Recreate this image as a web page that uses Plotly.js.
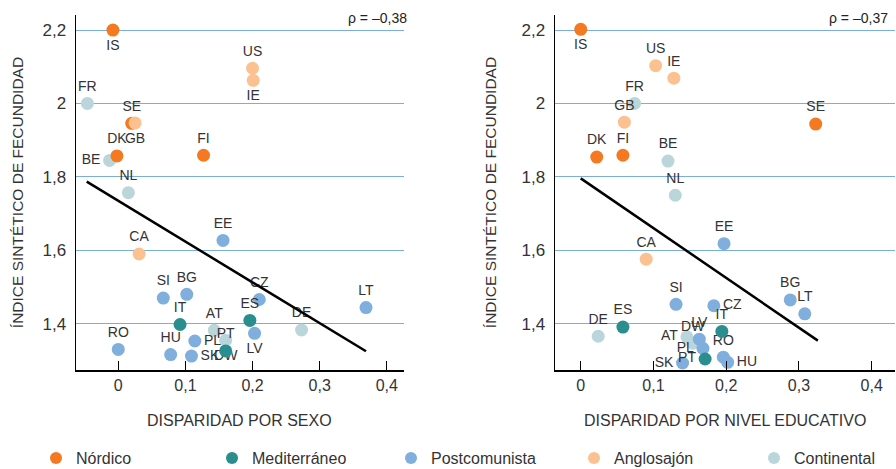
<!DOCTYPE html>
<html>
<head>
<meta charset="utf-8">
<script src="https://cdn.plot.ly/plotly-3.0.1.min.js"></script>
<style>html,body{margin:0;padding:0;background:#fff;}#chart{width:896px;height:469px;}</style>
</head>
<body>
<div id="chart"></div>
<script>
// ---- data ----
const countries = ["IS","SE","DK","FI","IT","ES","PT","EE","SI","BG","CZ","LT","LV","PL","HU","SK","RO","US","IE","GB","CA","FR","BE","NL","AT","DE","DW"];
const regions   = ["Nórdico","Nórdico","Nórdico","Nórdico","Mediterráneo","Mediterráneo","Mediterráneo",
                   "Postcomunista","Postcomunista","Postcomunista","Postcomunista","Postcomunista","Postcomunista","Postcomunista","Postcomunista","Postcomunista","Postcomunista",
                   "Anglosajón","Anglosajón","Anglosajón","Anglosajón",
                   "Continental","Continental","Continental","Continental","Continental","Continental"];
// Disparidad por sexo (left panel)
const dispSexo = [-0.008,0.020,-0.002,0.127,0.092,0.196,0.160,0.156,0.067,0.102,0.210,0.369,0.203,0.114,0.078,0.109,0.000,0.200,0.201,0.025,0.031,-0.046,-0.013,0.015,0.143,0.273,0.160];
const isfSexo  = [2.200,1.946,1.857,1.859,1.398,1.409,1.326,1.627,1.470,1.480,1.466,1.444,1.374,1.353,1.316,1.312,1.330,2.096,2.063,1.947,1.590,2.000,1.845,1.757,1.382,1.383,1.355];
// Disparidad por nivel educativo (right panel)
const dispEduc = [0.000,0.323,0.022,0.058,0.194,0.058,0.171,0.197,0.131,0.288,0.183,0.308,0.163,0.168,0.202,0.140,0.196,0.103,0.128,0.060,0.090,0.074,0.120,0.130,0.146,0.024,0.154];
const isfEduc  = [2.202,1.944,1.854,1.859,1.379,1.391,1.304,1.618,1.453,1.465,1.449,1.427,1.358,1.333,1.295,1.293,1.309,2.103,2.069,1.949,1.576,2.000,1.843,1.750,1.364,1.366,1.347];
// trend lines (end points)
const trendSexoX = [-0.047, 0.369], trendSexoY = [1.787, 1.325];
const trendEducX = [0.000, 0.326],  trendEducY = [1.796, 1.354];
const rhoSexo = "ρ = –0,38", rhoEduc = "ρ = –0,37";
const titleSexo = "DISPARIDAD POR SEXO", titleEduc = "DISPARIDAD POR NIVEL EDUCATIVO";
const ytitle = "ÍNDICE SINTÉTICO DE FECUNDIDAD";
// ticks
const xTickVals = [0,0.1,0.2,0.3,0.4];
const xTickText = ["0","0,1","0,2","0,3","0,4"];
const yTickVals = [1.4,1.6,1.8,2.0,2.2];
const yTickText = ["1,4","1,6","1,8","2","2,2"];
const legendOrder = ["Nórdico","Mediterráneo","Postcomunista","Anglosajón","Continental"];

// ---- styling (not data) ----
const colors = {"Nórdico":"#F47920","Mediterráneo":"#2A8D8E","Postcomunista":"#80AEDD","Anglosajón":"#FCC190","Continental":"#BAD6DB"};
const drawOrder = ["Continental","Postcomunista","Mediterráneo","Nórdico","Anglosajón"];
const legendLeftPx = [36, 212, 391, 574, 754];   // left edge of each legend entry (px)
const posSexo = ["bottom center","top center","top center","top center","top center","top center","top center","top center","top center","top center","top center","top center","bottom center","middle right","top center","middle right","top center","top center","bottom center","bottom center","top center","top center","middle left","top center","top center","top center","bottom center"];
const posEduc = ["bottom center","top center","top center","top center","top center","top center","middle left","top center","top center","top center","middle right","top center","top center","middle left","middle right","middle left","top center","top center","top center","top center","top center","top center","top center","top center","middle left","top center","top center"];

const FONT = "Liberation Sans, Arial, sans-serif";
const W = 896, H = 469;
const traces = [];
function pick(arr, reg){ return arr.filter((_,i)=>regions[i]===reg); }
function legendId(reg){ const k = legendOrder.indexOf(reg); return k===0 ? 'legend' : 'legend'+(k+1); }
drawOrder.forEach(reg=>{
  [[dispSexo,isfSexo,posSexo,'x','y',true],[dispEduc,isfEduc,posEduc,'x2','y2',false]].forEach(([xs,ys,ps,xa,ya,show])=>{
    traces.push({
      type:'scatter', mode:'markers+text', name:reg, legendgroup:reg, showlegend:show, legend:legendId(reg),
      x:pick(xs,reg), y:pick(ys,reg), text:pick(countries,reg), textposition:pick(ps,reg),
      textfont:{family:FONT,size:14,color:'#333'},
      marker:{color:colors[reg],size:13,line:{width:0}},
      xaxis:xa, yaxis:ya, cliponaxis:false, hoverinfo:'skip'
    });
  });
});
traces.push({type:'scatter',mode:'lines',x:trendSexoX,y:trendSexoY,line:{color:'#000',width:2.5},showlegend:false,xaxis:'x',yaxis:'y',hoverinfo:'skip'});
traces.push({type:'scatter',mode:'lines',x:trendEducX,y:trendEducY,line:{color:'#000',width:2.5},showlegend:false,xaxis:'x2',yaxis:'y2',hoverinfo:'skip'});

const xBase = {tickvals:xTickVals, ticktext:xTickText, ticks:'inside', ticklen:9, tickwidth:1, tickcolor:'#000',
  showline:true, linecolor:'#000', linewidth:1.5, showgrid:false, zeroline:false, automargin:false,
  tickfont:{family:FONT,size:16,color:'#333'}, fixedrange:true};
const yBase = {tickvals:yTickVals, ticktext:yTickText, range:[1.274,2.241], ticks:'outside', ticklen:5, tickcolor:'rgba(0,0,0,0)', automargin:false,
  showline:true, linecolor:'#000', linewidth:1.5, showgrid:true, gridcolor:'#7AAEDB', gridwidth:1, zeroline:false,
  tickfont:{family:FONT,size:17,color:'#333'}, fixedrange:true};

const layout = {
  width:W, height:H, margin:{l:76,r:1,t:15,b:99,autoexpand:false},
  paper_bgcolor:'#fff', plot_bgcolor:'#fff',
  font:{family:FONT,color:'#333'},
  xaxis: Object.assign({}, xBase, {domain:[0,0.4], range:[-0.063,0.425], anchor:'y'}),
  xaxis2: Object.assign({}, xBase, {domain:[0.585,1], range:[-0.0352,0.432], anchor:'y2'}),
  yaxis: Object.assign({}, yBase, {anchor:'x', title:{text:ytitle, font:{family:FONT,size:15.5,color:'#333'}, standoff:15}}),
  yaxis2: Object.assign({}, yBase, {anchor:'x2', title:{text:ytitle, font:{family:FONT,size:15.5,color:'#333'}, standoff:21}}),
  showlegend:true,
  annotations:[
    {xref:'x domain', yref:'paper', x:1, y:1, xanchor:'right', yanchor:'middle', xshift:5, yshift:-3, text:rhoSexo, showarrow:false, font:{family:FONT,size:14,color:'#222'}},
    {xref:'x2 domain', yref:'paper', x:1, y:1, xanchor:'right', yanchor:'middle', xshift:-5, yshift:-3, text:rhoEduc, showarrow:false, font:{family:FONT,size:14,color:'#222'}},
    {xref:'x domain', yref:'paper', x:0.5, y:0, xanchor:'center', yanchor:'middle', yshift:-50, text:titleSexo, showarrow:false, font:{family:FONT,size:16,color:'#333'}},
    {xref:'x2 domain', yref:'paper', x:0.5, y:0, xanchor:'center', yanchor:'middle', yshift:-50, text:titleEduc, showarrow:false, font:{family:FONT,size:16,color:'#333'}}
  ]
};
legendOrder.forEach((reg,k)=>{
  layout[k===0?'legend':'legend'+(k+1)] = {orientation:'h', xref:'container', yref:'container',
    x:legendLeftPx[k]/W, xanchor:'left', y:11/H, yanchor:'middle',
    font:{family:FONT,size:16,color:'#333'}, itemwidth:30, itemsizing:'constant', bgcolor:'rgba(0,0,0,0)'};
});
Plotly.newPlot('chart', traces, layout, {displayModeBar:false, staticPlot:true});
</script>
</body>
</html>
